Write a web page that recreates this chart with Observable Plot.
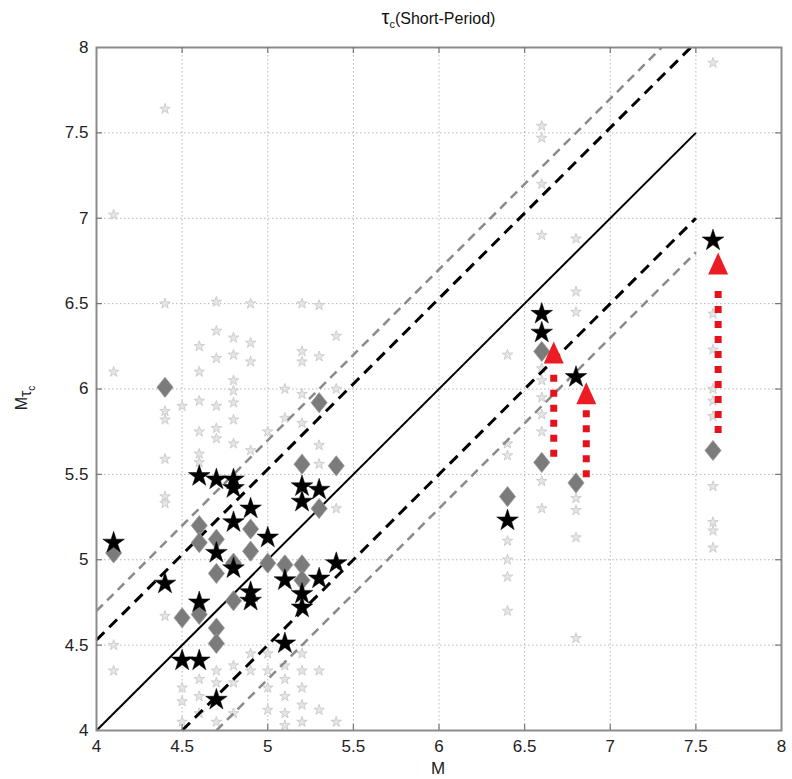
<!DOCTYPE html>
<html><head><meta charset="utf-8">
<script src="https://cdn.jsdelivr.net/npm/d3@7"></script>
<script src="https://cdn.jsdelivr.net/npm/@observablehq/plot@0.6"></script>
<style>
body{margin:0;background:#fff;font-family:"Liberation Sans",Arial,sans-serif;}
#title{height:28px;margin-left:96px;width:685px;text-align:center;font-size:16px;line-height:18px;padding-top:8px;box-sizing:border-box;color:#111;overflow:visible;white-space:nowrap;}
#title sub{font-size:11px;vertical-align:-4px;line-height:0;}
</style></head><body>
<div id="title"><span style="font-size:20px">τ</span><sub>c</sub>(Short-Period)</div>
<div id="chart"></div>
<script>
// Ticks
const xTicks = [4, 4.5, 5, 5.5, 6, 6.5, 7, 7.5, 8];
const yTicks = [4, 4.5, 5, 5.5, 6, 6.5, 7, 7.5, 8];

// Black stars (M, M_tau_c)
const starM    = [4.1, 4.4, 4.5, 4.6, 4.6, 4.6, 4.7, 4.7, 4.7, 4.8, 4.8, 4.8, 4.8, 4.9, 4.9, 4.9, 5.0, 5.1, 5.1, 5.2, 5.2, 5.2, 5.2, 5.3, 5.3, 5.4, 6.4, 6.6, 6.6, 6.8, 7.6];
const starMtau = [5.10, 4.86, 4.41, 4.41, 4.75, 5.49, 5.47, 5.04, 4.18, 5.47, 5.42, 5.22, 4.95, 5.30, 4.81, 4.76, 5.13, 4.88, 4.51, 5.43, 5.34, 4.80, 4.72, 5.41, 4.89, 4.98, 5.23, 6.44, 6.33, 6.07, 6.87];

// Gray diamonds
const diamondM    = [4.1, 4.4, 4.5, 4.6, 4.6, 4.6, 4.7, 4.7, 4.7, 4.7, 4.8, 4.8, 4.9, 4.9, 5.0, 5.1, 5.2, 5.2, 5.2, 5.3, 5.3, 5.4, 6.4, 6.6, 6.6, 6.8, 7.6];
const diamondMtau = [5.04, 6.01, 4.66, 5.20, 5.10, 4.68, 5.12, 4.92, 4.60, 4.51, 4.98, 4.76, 5.18, 5.05, 4.98, 4.97, 5.56, 4.97, 4.88, 5.92, 5.30, 5.55, 5.37, 6.22, 5.57, 5.45, 5.64];

// Faint background stations
const faintM = [
  4.1, 4.1, 4.1, 4.1,
  4.4, 4.4, 4.4, 4.4, 4.4, 4.4, 4.4, 4.4,
  4.5, 4.5, 4.5, 4.5,
  4.6, 4.6, 4.6, 4.6, 4.6, 4.6, 4.6, 4.6, 4.6,
  4.7, 4.7, 4.7, 4.7, 4.7, 4.7, 4.7, 4.7, 4.7,
  4.8, 4.8, 4.8, 4.8, 4.8, 4.8, 4.8, 4.8, 4.8, 4.8,
  4.9, 4.9, 4.9, 4.9, 4.9, 4.9,
  5.0, 5.0, 5.0, 5.0, 5.0,
  5.1, 5.1, 5.1, 5.1, 5.1, 5.1, 5.1,
  5.2, 5.2, 5.2, 5.2, 5.2, 5.2, 5.2, 5.2, 5.2, 5.2,
  5.3, 5.3, 5.3, 5.3, 5.3, 5.3,
  5.4, 5.4, 5.4, 5.4,
  6.4, 6.4, 6.4, 6.4, 6.4, 6.4, 6.4,
  6.6, 6.6, 6.6, 6.6, 6.6, 6.6, 6.6, 6.6, 6.6, 6.6, 6.6,
  6.8, 6.8, 6.8, 6.8, 6.8, 6.8, 6.8,
  7.6, 7.6, 7.6, 7.6, 7.6, 7.6, 7.6, 7.6, 7.6, 7.6
];
const faintMtau = [
  7.02, 6.10, 4.50, 4.35,
  7.64, 6.50, 5.87, 5.82, 5.59, 5.37, 5.33, 4.67,
  5.90, 4.25, 4.17, 4.05,
  6.10, 5.93, 5.75, 5.62, 5.57, 6.25, 4.30, 4.20, 4.10,
  6.51, 6.34, 6.18, 5.90, 5.77, 5.71, 4.35, 4.28, 4.05,
  6.30, 6.20, 6.05, 5.99, 5.92, 5.82, 5.68, 4.38, 4.28, 4.10,
  6.50, 6.27, 6.16, 5.64, 4.45, 4.35,
  5.75, 4.45, 4.35, 4.25, 4.12,
  6.00, 5.83, 4.38, 4.30, 4.20, 4.10, 4.03,
  6.50, 6.22, 6.16, 5.97, 5.80, 4.45, 4.35, 4.25, 4.15, 4.05,
  6.49, 6.19, 5.67, 5.56, 4.35, 4.12,
  6.31, 6.00, 5.30, 4.05,
  6.20, 5.68, 5.61, 5.11, 5.00, 4.90, 4.70,
  7.54, 7.47, 7.20, 6.90, 6.12, 6.05, 5.95, 5.85, 5.75, 5.46, 5.30,
  6.88, 6.57, 6.45, 5.36, 5.29, 5.13, 4.54,
  7.91, 6.44, 6.23, 6.00, 5.93, 5.84, 5.43, 5.22, 5.17, 5.07
];

// Reference lines y = M + offset
const lineOffset = [0, 0.53, -0.5, 0.7, -0.7];
const lineStart  = [4, 4, 4.5, 4, 4.7];
const lineEnd    = [7.5, 7.47, 7.5, 7.3, 7.5];
const lineKind   = ["solid", "black", "black", "gray", "gray"];

// Red arrows
const arrowM     = [6.67, 6.86, 7.63];
const arrowFrom  = [5.60, 5.48, 5.74];
const arrowTo    = [6.10, 5.88, 6.59];
const arrowHead  = [6.15, 5.91, 6.67];

const stars = starM.map((m, i) => ({m, t: starMtau[i]}));
const diamonds = diamondM.map((m, i) => ({m, t: diamondMtau[i]}));
const faint = faintM.map((m, i) => ({m, t: faintMtau[i]}));
const lines = lineOffset.map((o, i) => ({x1: lineStart[i], y1: lineStart[i] + o, x2: lineEnd[i], y2: lineEnd[i] + o, kind: lineKind[i]}));
const arrows = arrowM.map((m, i) => ({m, from: arrowFrom[i], to: arrowTo[i], head: arrowHead[i]}));

const tallDiamond = {draw(ctx, size) {
  const h = Math.sqrt(size / 1.6), w = 0.8 * h;
  ctx.moveTo(0, -h); ctx.lineTo(w, 0); ctx.lineTo(0, h); ctx.lineTo(-w, 0); ctx.closePath();
}};
const headSymbol = {draw(ctx, size) {
  const w = 10, h = 22;
  ctx.moveTo(0, -h); ctx.lineTo(w, 0); ctx.lineTo(-w, 0); ctx.closePath();
}};

const tickLen = 0.035;
const chart = Plot.plot({
  width: 792, height: 751,
  marginTop: 19, marginBottom: 49, marginLeft: 96, marginRight: 11,
  x: {domain: [4, 8]},
  y: {domain: [4, 8]},
  style: {fontFamily: "'Liberation Sans', Arial, sans-serif", fontSize: "17px", color: "#222", background: "#fff"},
  marks: [
    Plot.gridX(xTicks, {stroke: "#999", strokeOpacity: 0.7, strokeDasharray: "1.5,2.5"}),
    Plot.gridY(yTicks, {stroke: "#999", strokeOpacity: 0.7, strokeDasharray: "1.5,2.5"}),
    Plot.dot(faint, {x: "m", y: "t", symbol: "star", r: 3.3, fill: "#e6e6e6", stroke: "#cdcdcd", strokeWidth: 1}),
    Plot.link(lines.filter(d => d.kind === "solid"), {x1: "x1", y1: "y1", x2: "x2", y2: "y2", stroke: "#000", strokeWidth: 2}),
    Plot.link(lines.filter(d => d.kind === "black"), {x1: "x1", y1: "y1", x2: "x2", y2: "y2", stroke: "#000", strokeWidth: 3, strokeDasharray: "11,7"}),
    Plot.link(lines.filter(d => d.kind === "gray"), {x1: "x1", y1: "y1", x2: "x2", y2: "y2", stroke: "#8a8a8a", strokeWidth: 2.5, strokeDasharray: "9,6"}),
    Plot.dot(diamonds, {x: "m", y: "t", symbol: tallDiamond, r: 7.2, fill: "#7b7b7b", stroke: "#9a9a9a", strokeWidth: 0.8}),
    Plot.dot(stars, {x: "m", y: "t", symbol: "star", r: 6.8, fill: "#000", stroke: "#000", strokeWidth: 0.5}),
    Plot.ruleX(arrows, {x: "m", y1: "from", y2: "to", stroke: "#e5121b", strokeWidth: 7, strokeDasharray: "7,8"}),
    Plot.dot(arrows, {x: "m", y: "head", symbol: headSymbol, r: 7, fill: "#ec1c24", stroke: "none"}),
    Plot.frame({stroke: "#8c8c8c", strokeWidth: 2}),
    Plot.ruleX(xTicks.slice(1, -1), {x: d => d, y1: 4, y2: 4 + tickLen, stroke: "#777", strokeWidth: 1.2}),
    Plot.ruleX(xTicks.slice(1, -1), {x: d => d, y1: 8 - tickLen, y2: 8, stroke: "#777", strokeWidth: 1.2}),
    Plot.ruleY(yTicks.slice(1, -1), {y: d => d, x1: 4, x2: 4 + tickLen, stroke: "#777", strokeWidth: 1.2}),
    Plot.ruleY(yTicks.slice(1, -1), {y: d => d, x1: 8 - tickLen, x2: 8, stroke: "#777", strokeWidth: 1.2}),
    Plot.axisX(xTicks, {tickSize: 0, tickPadding: 9, tickFormat: d => String(d), label: null}),
    Plot.axisY(yTicks, {tickSize: 0, tickPadding: 8, tickFormat: d => String(d), label: null})
  ]
});

const svg = d3.select(chart);
// x axis label
svg.append("text")
  .attr("x", 438).attr("y", 746)
  .attr("text-anchor", "middle")
  .attr("font-family", "'Liberation Sans', Arial, sans-serif")
  .attr("font-size", 17).attr("fill", "#222")
  .text("M");
// y axis label M τ_c
const yl = svg.append("text")
  .attr("transform", "translate(27,370) rotate(-90)")
  .attr("text-anchor", "middle")
  .attr("font-family", "'Liberation Sans', Arial, sans-serif")
  .attr("font-size", 16).attr("fill", "#222");
yl.append("tspan").text("M");
yl.append("tspan").attr("dy", 4).attr("font-size", 16).text("τ");
yl.append("tspan").attr("dy", 4).attr("font-size", 10).text("c");

document.getElementById("chart").appendChild(chart);
</script>
</body></html>
